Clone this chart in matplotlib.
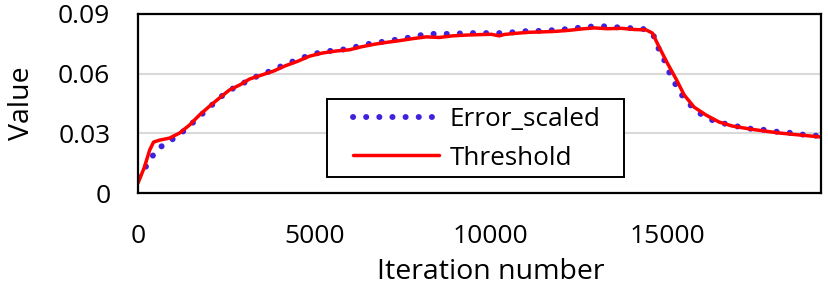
import matplotlib.pyplot as plt
from matplotlib.patches import Rectangle

plt.rcParams['font.family'] = ['Open Sans', 'DejaVu Sans']

# Error_scaled (dotted series)
iter_error = [0, 70, 330, 500, 810, 1120, 1400, 1660, 1940, 2220, 2510, 2820,
              3160, 3500, 3840, 4180, 4520, 4860, 5230, 5620, 5990, 6330,
              6700, 7070, 7410, 7780, 8170, 8540, 8910, 9310, 9620, 10010,
              10380, 10720, 11090, 11460, 11860, 12220, 12590, 12930, 13300,
              13700, 14070, 14400, 14630, 14770, 14940, 15090, 15260, 15450,
              15710, 15990, 16330, 16670, 17070, 17410, 17800, 18150, 18540,
              18910, 19310, 19400]
error_scaled = [0.008, 0.010, 0.0156, 0.0216, 0.0251, 0.0287, 0.0327, 0.0372,
                0.0417, 0.0463, 0.0508, 0.0538, 0.0568, 0.0598, 0.0618,
                0.0649, 0.0669, 0.0694, 0.0709, 0.0719, 0.0724, 0.0744,
                0.0754, 0.0764, 0.0774, 0.0784, 0.0800, 0.0800, 0.0800,
                0.0804, 0.0804, 0.0804, 0.0804, 0.0810, 0.0815, 0.0815,
                0.0820, 0.0825, 0.0833, 0.0838, 0.0838, 0.0831, 0.0828,
                0.0823, 0.0786, 0.0719, 0.0659, 0.0593, 0.0538, 0.0483,
                0.0432, 0.0392, 0.0362, 0.0347, 0.0332, 0.0322, 0.0317,
                0.0307, 0.0302, 0.0292, 0.0287, 0.0286]

# Threshold (solid series)
iter_threshold = [0, 180, 330, 440, 610, 890, 1180, 1460, 1740, 2030, 2310,
                  2590, 2880, 3160, 3500, 3840, 4180, 4520, 4860, 5230, 5620,
                  5990, 6330, 6700, 7070, 7410, 7780, 8170, 8540, 8910, 9310,
                  9620, 10010, 10240, 10380, 10720, 11090, 11460, 11860,
                  12220, 12590, 12930, 13300, 13700, 14070, 14400, 14580,
                  14770, 15000, 15260, 15480, 15760, 16100, 16470, 16840,
                  17410, 18170, 18740, 19400]
threshold = [0.005, 0.013, 0.0216, 0.0256, 0.0266, 0.0276, 0.0302, 0.0342,
             0.0392, 0.0437, 0.0478, 0.0518, 0.0543, 0.0573, 0.0593, 0.0613,
             0.0640, 0.0662, 0.0688, 0.0704, 0.0714, 0.0720, 0.0735, 0.0748,
             0.0758, 0.0766, 0.0776, 0.0785, 0.0782, 0.0790, 0.0794, 0.0796,
             0.0798, 0.0790, 0.0797, 0.0803, 0.0808, 0.0810, 0.0813, 0.0818,
             0.0825, 0.0830, 0.0826, 0.0828, 0.0822, 0.0820, 0.0804, 0.0734,
             0.0654, 0.0570, 0.0493, 0.0432, 0.0392, 0.0357, 0.0337, 0.0320,
             0.0302, 0.0292, 0.0281]

fig, ax = plt.subplots(figsize=(8.29, 2.89), dpi=100)
fig.subplots_adjust(left=0.1665, right=0.990, top=0.9516, bottom=0.332)

ax.plot(iter_error, error_scaled, color="#4122dc", lw=4.3,
        linestyle=(0, (0.02, 2.18)), dash_capstyle="round",
        label="Error_scaled", zorder=3)
ax.plot(iter_threshold, threshold, color="#ff0000", lw=2.5,
        solid_capstyle="round", label="Threshold", zorder=4)

ax.set_xlim(0, 19350)
ax.set_ylim(0, 0.09)
ax.set_xticks([0, 5000, 10000, 15000])
ax.set_yticks([0, 0.03, 0.06, 0.09])
ax.set_yticklabels(["0", "0.03", "0.06", "0.09"])
ax.tick_params(length=0, labelsize=19)
ax.tick_params(axis="y", pad=20)
ax.tick_params(axis="x", pad=22)
ax.grid(axis="y", color="#d9d9d9", lw=1.5, zorder=0)
for s in ax.spines.values():
    s.set_color("black")
    s.set_linewidth(1.6)
    s.set_zorder(6)

ax.set_xlabel("Iteration number", fontsize=20.5)
ax.set_ylabel("Value", fontsize=20.5)
ax.xaxis.set_label_coords(0.516, -0.365)
ax.yaxis.set_label_coords(-0.149, 0.5)

# legend box
ax.add_patch(Rectangle((0.277, 0.089), 0.435, 0.436, transform=ax.transAxes,
                       facecolor="white", edgecolor="black", lw=1.4,
                       zorder=5))
leg = ax.legend(loc="upper left", bbox_to_anchor=(0.315, 0.478),
                fontsize=18.8, frameon=False, handlelength=3.3,
                handletextpad=0.4, labelspacing=0.5, borderpad=0,
                borderaxespad=0)
leg.set_zorder(7)

fig.savefig("out.png", dpi=100)
